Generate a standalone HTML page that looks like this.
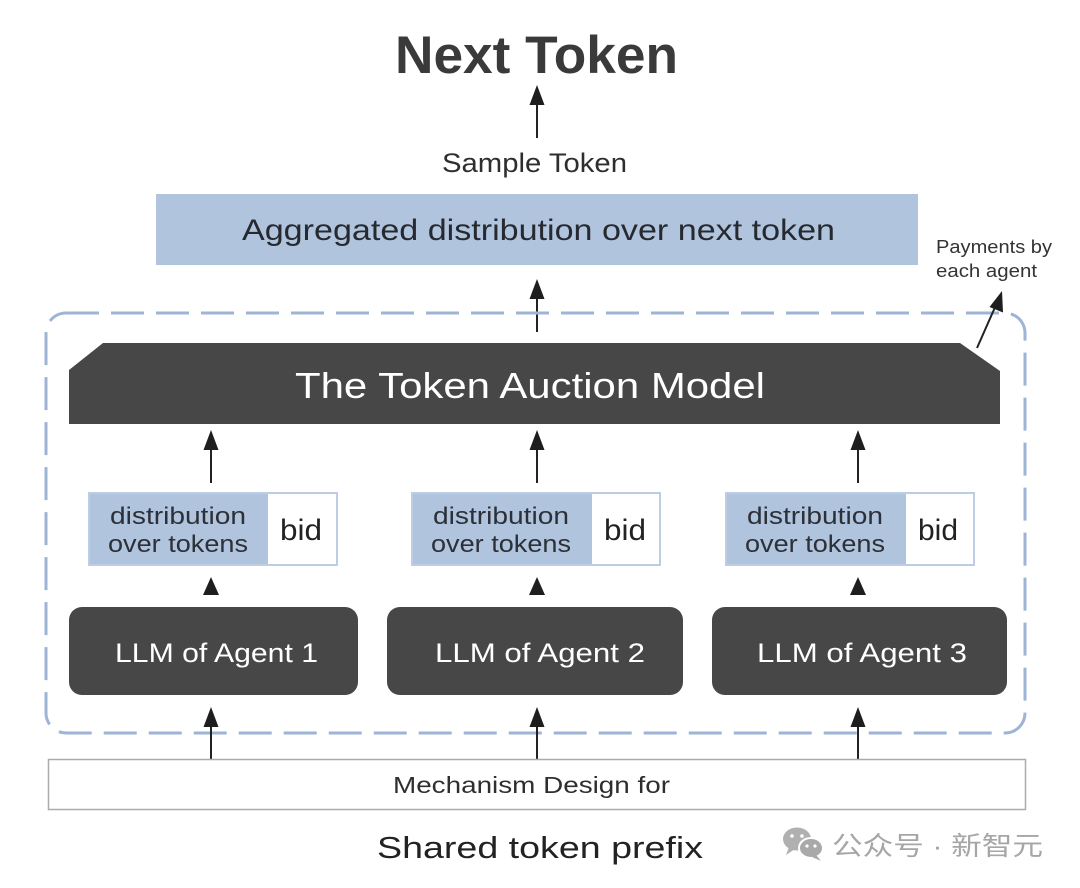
<!DOCTYPE html>
<html>
<head>
<meta charset="utf-8">
<style>
  html, body { margin: 0; padding: 0; background: #ffffff; }
  body { width: 1080px; height: 888px; overflow: hidden; }
  svg { display: block; }
  text { font-family: "Liberation Sans", "Noto Sans CJK SC", sans-serif; }
</style>
</head>
<body>
<svg width="1080" height="888" viewBox="0 0 1080 888" xmlns="http://www.w3.org/2000/svg">
  <rect x="0" y="0" width="1080" height="888" fill="#ffffff"/>

  <!-- Title -->
  <text x="395" y="73" font-size="53" font-weight="bold" fill="#3a3a3a" textLength="283" lengthAdjust="spacingAndGlyphs">Next Token</text>

  <!-- Arrow to Next Token -->
  <line x1="537" y1="138" x2="537" y2="103" stroke="#222" stroke-width="2"/>
  <polygon points="537,85 529.5,105 544.5,105" fill="#1e1e1e"/>

  <text x="442" y="172" font-size="27" fill="#2e2e2e" textLength="185" lengthAdjust="spacingAndGlyphs">Sample Token</text>

  <!-- Aggregated box -->
  <rect x="156" y="194" width="762" height="71" fill="#b1c4de"/>
  <text x="242" y="240" font-size="30" fill="#262a30" textLength="593" lengthAdjust="spacingAndGlyphs">Aggregated distribution over next token</text>

  <!-- Payments -->
  <text x="936" y="253" font-size="18" fill="#333" textLength="116" lengthAdjust="spacingAndGlyphs">Payments by</text>
  <text x="936" y="277" font-size="18" fill="#333" textLength="101" lengthAdjust="spacingAndGlyphs">each agent</text>

  <!-- Arrow agg <- auction -->
  <line x1="537" y1="332" x2="537" y2="297" stroke="#222" stroke-width="2"/>
  <polygon points="537,279 529.5,299 544.5,299" fill="#1e1e1e"/>

  <!-- Dashed container -->
  <rect x="46" y="313" width="979" height="420" rx="20" ry="20" fill="none" stroke="#9db4d6" stroke-width="3" stroke-dasharray="33 12"/>

  <!-- Payments arrow -->
  <line x1="977" y1="348" x2="996" y2="305" stroke="#222" stroke-width="2"/>
  <polygon points="1002,291 989.5,307 1003,312.5" fill="#1e1e1e"/>

  <!-- Auction model -->
  <polygon points="69,370 103,343 960,343 1000,371 1000,424 69,424" fill="#474747"/>
  <text x="295" y="398" font-size="36" fill="#ffffff" textLength="470" lengthAdjust="spacingAndGlyphs">The Token Auction Model</text>

  <!-- Arrows into auction -->
  <g stroke="#222" stroke-width="2">
    <line x1="211" y1="483" x2="211" y2="448"/>
    <line x1="537" y1="483" x2="537" y2="448"/>
    <line x1="858" y1="483" x2="858" y2="448"/>
  </g>
  <g fill="#1e1e1e">
    <polygon points="211,430 203.5,450 218.5,450"/>
    <polygon points="537,430 529.5,450 544.5,450"/>
    <polygon points="858,430 850.5,450 865.5,450"/>
  </g>

  <!-- Distribution boxes -->
  <g>
    <rect x="89" y="493" width="248" height="72" fill="#ffffff" stroke="#bccde4" stroke-width="2"/>
    <rect x="90" y="494" width="178" height="70" fill="#b1c4de"/>
    <text x="110" y="524" font-size="24" fill="#2c3038" textLength="136" lengthAdjust="spacingAndGlyphs">distribution</text>
    <text x="108" y="552" font-size="24" fill="#2c3038" textLength="140" lengthAdjust="spacingAndGlyphs">over tokens</text>
    <text x="280" y="540" font-size="30" fill="#222" textLength="42" lengthAdjust="spacingAndGlyphs">bid</text>

    <rect x="412" y="493" width="248" height="72" fill="#ffffff" stroke="#bccde4" stroke-width="2"/>
    <rect x="413" y="494" width="179" height="70" fill="#b1c4de"/>
    <text x="433" y="524" font-size="24" fill="#2c3038" textLength="136" lengthAdjust="spacingAndGlyphs">distribution</text>
    <text x="431" y="552" font-size="24" fill="#2c3038" textLength="140" lengthAdjust="spacingAndGlyphs">over tokens</text>
    <text x="604" y="540" font-size="30" fill="#222" textLength="42" lengthAdjust="spacingAndGlyphs">bid</text>

    <rect x="726" y="493" width="248" height="72" fill="#ffffff" stroke="#bccde4" stroke-width="2"/>
    <rect x="727" y="494" width="179" height="70" fill="#b1c4de"/>
    <text x="747" y="524" font-size="24" fill="#2c3038" textLength="136" lengthAdjust="spacingAndGlyphs">distribution</text>
    <text x="745" y="552" font-size="24" fill="#2c3038" textLength="140" lengthAdjust="spacingAndGlyphs">over tokens</text>
    <text x="918" y="540" font-size="30" fill="#222" textLength="40" lengthAdjust="spacingAndGlyphs">bid</text>
  </g>

  <!-- Small triangles -->
  <g fill="#1e1e1e">
    <polygon points="211,577 203,595 219,595"/>
    <polygon points="537,577 529,595 545,595"/>
    <polygon points="858,577 850,595 866,595"/>
  </g>

  <!-- LLM boxes -->
  <rect x="69" y="607" width="289" height="88" rx="13" ry="13" fill="#474747"/>
  <text x="115" y="662" font-size="27" fill="#ffffff" textLength="203" lengthAdjust="spacingAndGlyphs">LLM of Agent 1</text>

  <rect x="387" y="607" width="296" height="88" rx="13" ry="13" fill="#474747"/>
  <text x="435" y="662" font-size="27" fill="#ffffff" textLength="210" lengthAdjust="spacingAndGlyphs">LLM of Agent 2</text>

  <rect x="712" y="607" width="295" height="88" rx="13" ry="13" fill="#474747"/>
  <text x="757" y="662" font-size="27" fill="#ffffff" textLength="210" lengthAdjust="spacingAndGlyphs">LLM of Agent 3</text>

  <!-- Bottom arrows -->
  <g stroke="#222" stroke-width="2">
    <line x1="211" y1="760" x2="211" y2="725"/>
    <line x1="537" y1="760" x2="537" y2="725"/>
    <line x1="858" y1="760" x2="858" y2="725"/>
  </g>
  <g fill="#1e1e1e">
    <polygon points="211,707 203.5,727 218.5,727"/>
    <polygon points="537,707 529.5,727 544.5,727"/>
    <polygon points="858,707 850.5,727 865.5,727"/>
  </g>

  <!-- Mechanism box -->
  <rect x="48.5" y="759.5" width="977" height="50" fill="#ffffff" stroke="#ababab" stroke-width="1.5"/>
  <text x="393" y="793" font-size="23" fill="#2e2e2e" textLength="277" lengthAdjust="spacingAndGlyphs">Mechanism Design for</text>

  <text x="377" y="858" font-size="31" fill="#222" textLength="326" lengthAdjust="spacingAndGlyphs">Shared token prefix</text>

  <!-- Watermark -->
  <g>
    <ellipse cx="797" cy="839" rx="14" ry="11.5" fill="#b0b0b0"/>
    <polygon points="789,847 786,855 795,849" fill="#b0b0b0"/>
    <circle cx="792" cy="836" r="1.8" fill="#fff"/>
    <circle cx="802" cy="836" r="1.8" fill="#fff"/>
    <ellipse cx="811" cy="848" rx="12" ry="10" fill="#a9a9a9" stroke="#fff" stroke-width="2"/>
    <polygon points="816,855 821,861 812,857" fill="#a9a9a9"/>
    <circle cx="807" cy="846" r="1.6" fill="#fff"/>
    <circle cx="815" cy="846" r="1.6" fill="#fff"/>
  </g>
  <text x="832" y="855" font-size="26" fill="#a6a6a6" font-family="'Noto Sans CJK SC', sans-serif" textLength="211" lengthAdjust="spacingAndGlyphs">公众号 · 新智元</text>
</svg>
</body>
</html>
